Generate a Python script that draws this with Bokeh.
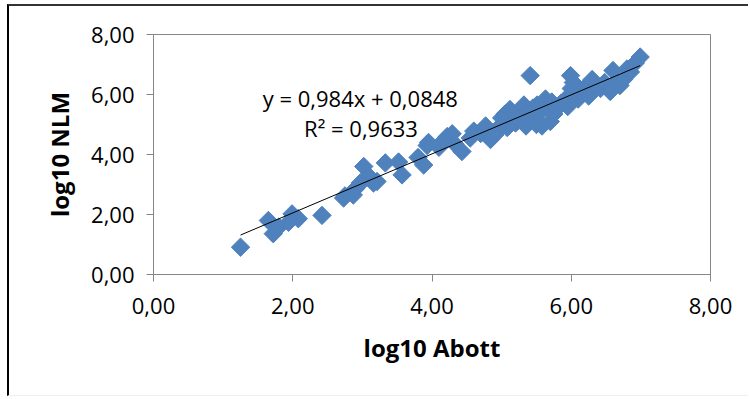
import math
from bokeh.plotting import figure
from bokeh.models import ColumnDataSource, FixedTicker, CustomJSTickFormatter, Label
from bokeh.embed import file_html
from bokeh.resources import INLINE

abott = [1.25, 1.65, 1.72, 1.80, 1.94, 1.99, 2.08, 2.42, 2.73, 2.75, 2.87, 2.90, 2.97, 3.02,
         3.04, 3.11, 3.16, 3.21, 3.33, 3.52, 3.57, 3.80, 3.88, 3.93, 3.95, 4.10, 4.17, 4.22,
         4.29, 4.33, 4.43, 4.55, 4.60, 4.70, 4.77, 4.84, 4.90, 4.93, 5.00, 5.00, 5.05, 5.08,
         5.12, 5.15, 5.20, 5.24, 5.28, 5.32, 5.35, 5.41, 5.42, 5.45, 5.50, 5.51, 5.55, 5.58,
         5.63, 5.65, 5.70, 5.72, 5.75, 5.80, 5.85, 5.90, 5.95, 5.99, 6.00, 6.02, 6.03, 6.05,
         6.10, 6.18, 6.25, 6.30, 6.35, 6.42, 6.48, 6.56, 6.60, 6.65, 6.70, 6.75, 6.80, 6.85,
         6.92, 6.99]
nlm = [0.91, 1.80, 1.36, 1.58, 1.74, 2.02, 1.86, 1.97, 2.55, 2.62, 2.65, 2.86, 3.05, 3.60,
       3.20, 3.24, 3.05, 3.10, 3.72, 3.75, 3.32, 3.90, 3.65, 4.30, 4.40, 4.24, 4.47, 4.60,
       4.69, 4.35, 4.10, 4.55, 4.78, 4.70, 4.95, 4.50, 4.65, 4.75, 5.00, 5.22, 5.35, 4.90,
       5.50, 5.40, 5.05, 5.15, 5.30, 5.65, 4.95, 6.63, 5.20, 5.55, 5.00, 5.65, 5.40, 4.95,
       5.85, 5.60, 5.10, 5.75, 5.35, 5.55, 5.70, 5.80, 5.60, 6.63, 6.20, 6.05, 6.40, 6.00,
       5.85, 6.20, 5.95, 6.50, 6.25, 6.20, 6.40, 6.10, 6.80, 6.45, 6.30, 6.50, 6.85, 6.75,
       7.05, 7.25]

slope = 0.984
intercept = 0.0848
r2_text = "R\u00b2 = 0,9633"
eq_text = "y = 0,984x + 0,0848"
x_ticks = [0, 2, 4, 6, 8]
y_ticks = [0, 2, 4, 6, 8]

FONT = "Open Sans"
GRAY = "#868686"

p = figure(width=741, height=392, output_backend="svg", toolbar_location=None,
           x_range=(0, 8), y_range=(0, 8),
           min_border_left=144, min_border_right=40, min_border_top=28, min_border_bottom=124,
           styles={"border-left": "2px solid black", "border-top": "2px solid #333333",
                   "border-bottom": "1px solid #eeeeee",
                   "margin-left": "7px", "margin-top": "4px"})
p.xgrid.visible = False
p.ygrid.visible = False
p.outline_line_color = GRAY
p.outline_line_width = 1
p.background_fill_color = "white"
p.border_fill_color = "white"

fmt = CustomJSTickFormatter(code="return tick.toFixed(2).replace('.', ',');")
for ax, ticks in ((p.xaxis, x_ticks), (p.yaxis, y_ticks)):
    ax.ticker = FixedTicker(ticks=ticks)
    ax.formatter = fmt
    ax.axis_line_color = GRAY
    ax.major_tick_line_color = GRAY
    ax.major_tick_out = 7
    ax.major_tick_in = 0
    ax.minor_tick_line_color = None
    ax.major_label_text_font = FONT
    ax.major_label_text_font_size = "22px"
    ax.major_label_text_color = "black"
    ax.axis_label_text_font = FONT
    ax.axis_label_text_font_size = "24px"
    ax.axis_label_text_font_style = "bold"
    ax.axis_label_text_color = "black"

p.xaxis.axis_label = "log10 Abott"
p.yaxis.axis_label = "log10 NLM"
p.xaxis.major_label_standoff = 16
p.yaxis.major_label_standoff = 12
p.xaxis.axis_label_standoff = 14
p.yaxis.axis_label_standoff = 12

src = ColumnDataSource(dict(x=abott, y=nlm))
p.scatter("x", "y", source=src, marker="square", angle=math.pi / 4, size=13,
          fill_color="#4F81BD", line_color="#4F81BD")

xmin, xmax = min(abott), max(abott)
p.line([xmin, xmax], [slope * xmin + intercept, slope * xmax + intercept],
       line_color="black", line_width=1)

p.add_layout(Label(x=2.97, y=5.9, text=eq_text, text_align="center", text_baseline="middle",
                   text_font=FONT, text_font_size="22px", text_color="black"))
p.add_layout(Label(x=2.98, y=4.87, text=r2_text, text_align="center", text_baseline="middle",
                   text_font=FONT, text_font_size="22px", text_color="black"))

open("out.html", "w").write(file_html(p, INLINE))
